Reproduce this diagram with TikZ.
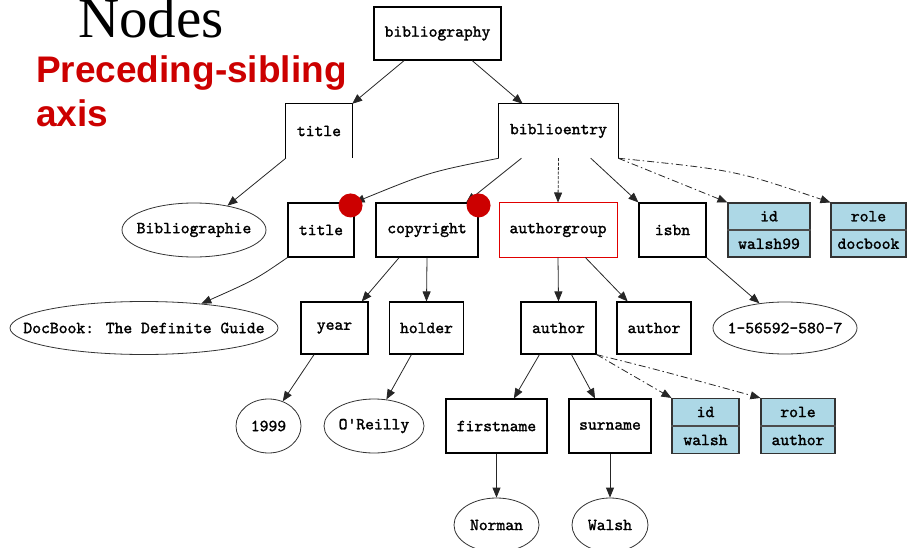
\documentclass[tikz,border=0pt]{standalone}
\usepackage{fontspec}
\usetikzlibrary{shapes.geometric,arrows.meta,calc}
\newfontfamily\nodefont{lmmono10-regular}[Extension=.otf, FakeBold=1.6]
\newfontfamily\headfont{Liberation Serif}
\newfontfamily\axisfont{Liberation Sans}
\definecolor{attrblue}{HTML}{ADD8E6}
\definecolor{axisred}{HTML}{CC0000}
\definecolor{markred}{HTML}{CC0000}
\definecolor{groupred}{HTML}{E00000}

\begin{document}
\begin{tikzpicture}[x=1pt,y=-1pt,
  txt/.style={inner sep=0pt, font=\nodefont\fontsize{16.8}{18}\selectfont, text=black},
  tbox/.style={txt, rectangle, draw=black, line width=1.1pt},
  openbox/.style={txt, rectangle},
  oval/.style={ellipse, draw=black!80, line width=0.8pt, inner sep=0pt},
  attrbox/.style={rectangle, draw=black!80, fill=attrblue, line width=1.1pt, inner sep=0pt},
  link/.style={draw=black!85, line width=0.8pt, -{Triangle[length=10pt,width=8pt]}},
  attrlink/.style={link, dash pattern=on 7pt off 3pt on 1.5pt off 3pt},
  dotlink/.style={link, dash pattern=on 3pt off 1.5pt},
  marker/.style={fill=markred}]

\useasboundingbox (0,0) rectangle (907,548);

% headings
\node[anchor=base west, inner sep=0pt, font=\headfont\fontsize{57}{60}\selectfont] (heading) at (78,38) {Nodes};
\node[anchor=base west, inner sep=0pt, text=axisred, font=\axisfont\bfseries\fontsize{37}{44}\selectfont] (axis1) at (36,83) {Preceding-sibling};
\node[anchor=base west, inner sep=0pt, text=axisred, font=\axisfont\bfseries\fontsize{37}{44}\selectfont] (axis2) at (36,127) {axis};

% level 0 and 1
\node[tbox, minimum width=127pt, minimum height=53pt] (bib) at (437.5,33.5) {bibliography};
\node[openbox, minimum width=66pt, minimum height=54pt] (t0) at (319,131) {title};
\draw[line width=1.1pt] (t0.south west) -- (t0.north west) -- (t0.north east) -- (t0.south east);
\node[openbox, minimum width=119pt, minimum height=54pt] (be) at (558.5,131) {biblioentry};
\draw[line width=1.1pt] (be.south west) -- (be.north west) -- (be.north east) -- (be.south east);

% level 2
\node[oval, minimum width=144pt, minimum height=54pt] (bphie) at (194,230) {};
\node[txt] (bphie-t) at (bphie) {Bibliographie};
\node[tbox, minimum width=66pt, minimum height=54pt] (t1) at (321,230) {title};
\node[tbox, minimum width=102pt, minimum height=54pt] (cr) at (427,230) {copyright};
\node[tbox, draw=groupred, line width=1pt, minimum width=118pt, minimum height=54pt] (ag) at (558,230) {authorgroup};
\node[tbox, minimum width=67pt, minimum height=54pt] (isbn) at (672.5,230) {isbn};

\node[attrbox, minimum width=82pt, minimum height=54pt] (id1) at (769,230) {};
\draw[draw=black!70, line width=1.1pt] (id1.west) -- (id1.east);
\node[txt] (id1-k) at ($(id1.north)!0.5!(id1.center)$) {id};
\node[txt] (id1-v) at ($(id1.south)!0.5!(id1.center)$) {walsh99};

\node[attrbox, minimum width=75pt, minimum height=54pt] (role1) at (868.5,230) {};
\draw[draw=black!70, line width=1.1pt] (role1.west) -- (role1.east);
\node[txt] (role1-k) at ($(role1.north)!0.5!(role1.center)$) {role};
\node[txt] (role1-v) at ($(role1.south)!0.5!(role1.center)$) {docbook};

% level 3
\node[oval, minimum width=268pt, minimum height=53pt] (dg) at (144,328) {};
\node[txt] (dg-t) at (dg) {DocBook: The Definite Guide};
\node[tbox, minimum width=67pt, minimum height=52pt] (yr) at (334.5,328) {year};
\node[tbox, minimum width=74pt, minimum height=52pt] (hd) at (426.5,328) {holder};
\node[tbox, minimum width=75pt, minimum height=52pt] (au1) at (558.5,328) {author};
\node[tbox, minimum width=74pt, minimum height=52pt] (au2) at (654,328) {author};
\node[oval, minimum width=144pt, minimum height=52pt] (isbnv) at (785,328) {};
\node[txt] (isbnv-t) at (isbnv) {1-56592-580-7};

% level 4
\node[oval, minimum width=65pt, minimum height=54pt] (y99) at (268.5,426) {};
\node[txt] (y99-t) at (y99) {1999};
\node[oval, minimum width=100pt, minimum height=54pt] (orl) at (374,426) {};
\node[txt] (orl-t) at (orl) {O'Reilly};
\node[tbox, minimum width=101pt, minimum height=54pt] (fn) at (496.5,426) {firstname};
\node[tbox, minimum width=82pt, minimum height=54pt] (sn) at (610,426) {surname};

\node[attrbox, minimum width=67pt, minimum height=55pt] (id2) at (705.5,426) {};
\draw[draw=black!70, line width=1.1pt] (id2.west) -- (id2.east);
\node[txt] (id2-k) at ($(id2.north)!0.5!(id2.center)$) {id};
\node[txt] (id2-v) at ($(id2.south)!0.5!(id2.center)$) {walsh};

\node[attrbox, minimum width=74pt, minimum height=55pt] (role2) at (798,426) {};
\draw[draw=black!70, line width=1.1pt] (role2.west) -- (role2.east);
\node[txt] (role2-k) at ($(role2.north)!0.5!(role2.center)$) {role};
\node[txt] (role2-v) at ($(role2.south)!0.5!(role2.center)$) {author};

% level 5
\node[oval, minimum width=85pt, minimum height=54pt] (nor) at (496.5,525) {};
\node[txt] (nor-t) at (nor) {Norman};
\node[oval, minimum width=76pt, minimum height=54pt] (wal) at (610,525) {};
\node[txt] (wal-t) at (wal) {Walsh};

% connectors
\draw[link] ($(bib.south west)!0.24!(bib.south east)$) -- (t0.north east);
\draw[link] ($(bib.south west)!0.77!(bib.south east)$) -- ($(be.north west)!0.2!(be.north east)$);
\draw[link] (t0.south west) -- (bphie.36);
\draw[link] (be.south west) .. controls ($(be.south west)+(-70,14)$) .. (t1.north east);
\draw[link] ($(be.south west)!0.19!(be.south east)$) -- ($(cr.north west)!0.88!(cr.north east)$);
\draw[dotlink] (be.south) -- (ag.north);
\draw[link] ($(be.south west)!0.77!(be.south east)$) -- (isbn.north west);
\draw[attrlink] (be.south east) -- (id1.north west);
\draw[attrlink] (be.south east) .. controls ($(be.south east)+(117,12)$) .. (role1.north west);

\draw[link] (t1.south west) .. controls ($(t1.south west)+(-32,22)$) .. (dg.23);
\draw[link] ($(cr.south west)!0.23!(cr.south east)$) -- ($(yr.north west)!0.9!(yr.north east)$);
\draw[link] (cr.south) -- (hd.north);
\draw[link] (ag.south) -- (au1.north);
\draw[link] ($(ag.south west)!0.73!(ag.south east)$) -- ($(au2.north west)!0.15!(au2.north east)$);
\draw[link] (isbn.south east) -- (isbnv.136);

\draw[link] ($(yr.south west)!0.2!(yr.south east)$) -- (y99.60);
\draw[link] ($(hd.south west)!0.3!(hd.south east)$) -- (orl.65);
\draw[link] ($(au1.south west)!0.25!(au1.south east)$) -- ($(fn.north west)!0.67!(fn.north east)$);
\draw[link] ($(au1.south west)!0.67!(au1.south east)$) -- ($(sn.north west)!0.32!(sn.north east)$);
\draw[attrlink] (au1.south east) -- (id2.north west);
\draw[attrlink] (au1.south east) .. controls ($(au1.south east)+(64,16)$) .. (role2.north west);

\draw[link] (fn.south) -- (nor.north);
\draw[link] (sn.south) -- (wal.north);

% markers on the preceding siblings
\fill[marker] ($(t1.north east)+(-4,3)$) circle[radius=12pt];
\fill[marker] ($(cr.north east)+(0,3)$) circle[radius=12pt];

\end{tikzpicture}
\end{document}
